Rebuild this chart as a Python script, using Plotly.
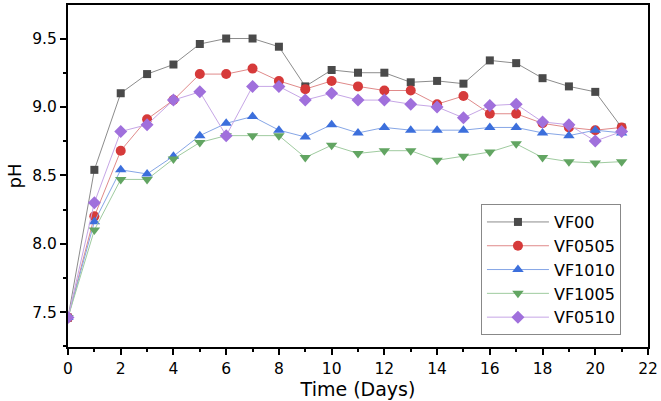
import plotly.graph_objects as go

days = list(range(0, 22))

vf00 = [7.46, 8.54, 9.10, 9.24, 9.31, 9.46, 9.50, 9.50, 9.44, 9.15, 9.27, 9.25,
        9.25, 9.18, 9.19, 9.17, 9.34, 9.32, 9.21, 9.15, 9.11, 8.85]
vf0505 = [7.46, 8.20, 8.68, 8.91, 9.05, 9.24, 9.24, 9.28, 9.19, 9.13, 9.19, 9.15,
          9.12, 9.12, 9.02, 9.08, 8.95, 8.95, 8.88, 8.85, 8.83, 8.85]
vf1010 = [7.46, 8.16, 8.54, 8.51, 8.64, 8.79, 8.88, 8.93, 8.83, 8.78, 8.87, 8.81,
          8.85, 8.83, 8.83, 8.83, 8.85, 8.85, 8.81, 8.79, 8.83, 8.81]
vf1005 = [7.46, 8.10, 8.47, 8.47, 8.62, 8.74, 8.79, 8.79, 8.79, 8.63, 8.72, 8.66,
          8.68, 8.68, 8.61, 8.64, 8.67, 8.73, 8.63, 8.60, 8.59, 8.60]
vf0510 = [7.46, 8.30, 8.82, 8.87, 9.05, 9.11, 8.79, 9.15, 9.15, 9.05, 9.10, 9.05,
          9.05, 9.02, 9.00, 8.92, 9.01, 9.02, 8.89, 8.87, 8.75, 8.82]

series = [
    ("VF00", vf00, "square", "#4a4a4a", "#8c8c8c", 8),
    ("VF0505", vf0505, "circle", "#d63a3a", "#e08a8a", 10),
    ("VF1010", vf1010, "triangle-up", "#3c6fdc", "#86a6e6", 10),
    ("VF1005", vf1005, "triangle-down", "#62a562", "#9fcb9f", 10),
    ("VF0510", vf0510, "diamond", "#a070dc", "#c6a6e6", 10),
]

FONT = "DejaVu Sans, Verdana, sans-serif"

fig = go.Figure()
for name, vals, sym, mcol, lcol, sz in series:
    fig.add_trace(go.Scatter(
        x=days, y=vals, name=name, mode="lines+markers",
        line=dict(color=lcol, width=1),
        marker=dict(symbol=sym, color=mcol, size=sz, line=dict(width=0)),
    ))

axis_font = dict(family=FONT, size=15.5, color="black")
fig.update_layout(
    width=661, height=401,
    margin=dict(l=68, r=13, t=3, b=54),
    paper_bgcolor="white", plot_bgcolor="white",
    font=dict(family=FONT, color="black"),
    showlegend=True,
    legend=dict(
        x=0.712, y=0.418, xanchor="left", yanchor="top",
        bordercolor="#888888", borderwidth=1, bgcolor="white",
        font=dict(size=16, family=FONT),
        tracegroupgap=0, itemwidth=62,
    ),
    xaxis=dict(
        range=[0, 22], tickmode="linear", tick0=0, dtick=2,
        ticks="outside", ticklen=6, tickwidth=1.5, tickcolor="black",
        minor=dict(ticks="outside", ticklen=3, tickwidth=1.5, tickcolor="black", dtick=1, showgrid=False),
        showline=True, linecolor="black", linewidth=2, mirror=True,
        showgrid=False, zeroline=False, tickfont=axis_font,
        title=dict(text="Time (Days)", font=dict(size=19, family=FONT), standoff=6),
    ),
    yaxis=dict(
        range=[7.245, 9.745], tickmode="linear", tick0=7.5, dtick=0.5,
        tickformat=".1f",
        ticks="outside", ticklen=6, tickwidth=1.5, tickcolor="black",
        minor=dict(ticks="outside", ticklen=3, tickwidth=1.5, tickcolor="black", dtick=0.25, showgrid=False),
        showline=True, linecolor="black", linewidth=2, mirror=True,
        showgrid=False, zeroline=False, tickfont=axis_font,
        title=dict(text="pH", font=dict(size=18, family=FONT), standoff=6),
    ),
)

fig.write_html("out.html")
